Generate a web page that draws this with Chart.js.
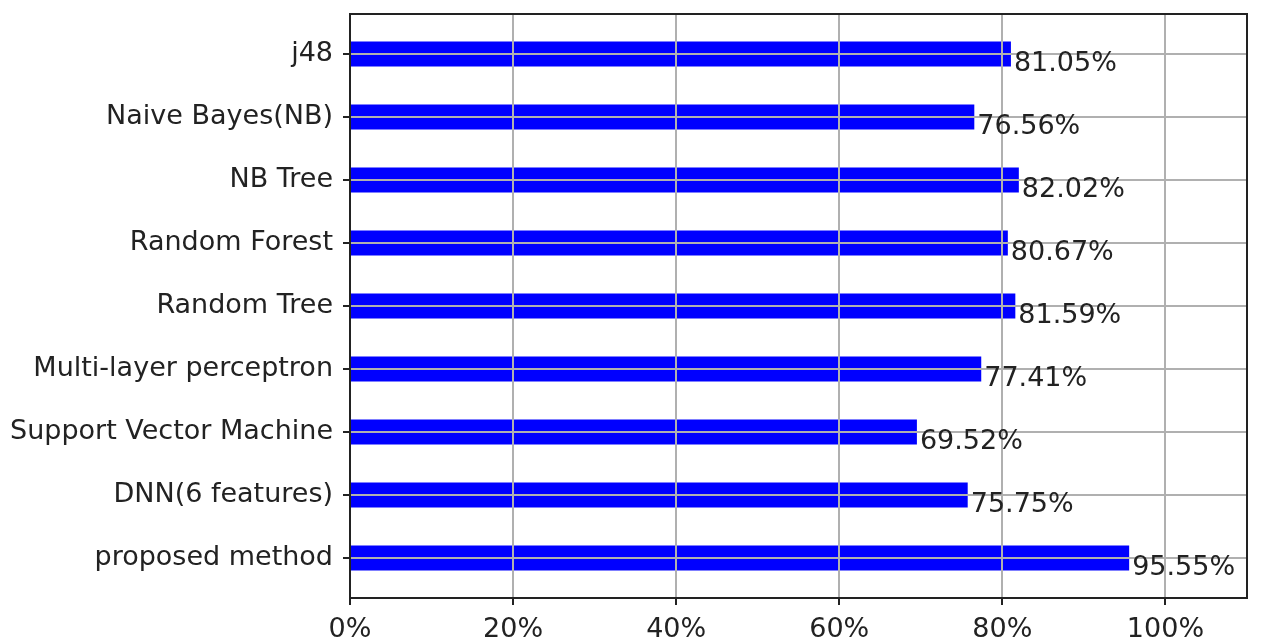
<!DOCTYPE html>
<html>
<head>
<meta charset="utf-8">
<script src="https://cdn.jsdelivr.net/npm/chart.js@4"></script>
<style>
  html, body { margin: 0; padding: 0; background: #fff; }
  #wrap { width: 1274px; height: 642px; }
</style>
</head>
<body>
<div id="wrap"><canvas id="myChart"></canvas></div>
<script>
const labels = ['j48', 'Naive Bayes(NB)', 'NB Tree', 'Random Forest', 'Random Tree',
    'Multi-layer perceptron', 'Support Vector Machine', 'DNN(6 features)', 'proposed method'];
const accuracy = [81.05, 76.56, 82.02, 80.67, 81.59, 77.41, 69.52, 75.75, 95.55];
const xTicks = [0, 20, 40, 60, 80, 100];

const FONT = "'DejaVu Sans', sans-serif";
const TEXT = '#222';

// grid lines go over the bars, plus the box and the value labels
const overlay = {
    id: 'overlay',
    afterDatasetsDraw(chart) {
        const ctx = chart.ctx;
        const area = chart.chartArea;
        chart.scales.x.drawGrid(area);
        chart.scales.y.drawGrid(area);

        ctx.save();
        ctx.strokeStyle = '#222';
        ctx.lineWidth = 2;
        ctx.strokeRect(area.left, area.top, area.right - area.left, area.bottom - area.top);

        ctx.fillStyle = TEXT;
        ctx.font = '27px ' + FONT;
        ctx.textAlign = 'left';
        ctx.textBaseline = 'alphabetic';
        const xs = chart.scales.x, ys = chart.scales.y;
        accuracy.forEach(function (v, i) {
            ctx.fillText(v.toFixed(2) + '%', xs.getPixelForValue(v) + 3, ys.getPixelForValue(i) + 17);
        });
        ctx.restore();
    }
};

document.addEventListener('DOMContentLoaded', function () {
    const ctx = document.getElementById('myChart');

    new Chart(ctx, {
        type: 'bar',
        data: {
            datasets: [{
                data: accuracy.map(function (v, i) { return { x: v, y: i }; }),
                backgroundColor: '#0000ff',
                borderWidth: 0,
                barPercentage: 0.4,
                categoryPercentage: 1
            }]
        },
        options: {
            indexAxis: 'y',
            responsive: true,
            maintainAspectRatio: false,
            animation: false,
            layout: { padding: { top: 14, right: 27, left: 0, bottom: 0 } },
            plugins: {
                legend: { display: false },
                tooltip: { enabled: false }
            },
            scales: {
                x: {
                    type: 'linear',
                    min: 0,
                    max: 110,
                    afterBuildTicks: function (scale) {
                        scale.ticks = xTicks.map(function (v) { return { value: v }; });
                    },
                    afterFit: function (scale) { scale.height = 44; },
                    grid: { color: '#b0b0b0', lineWidth: 2, tickLength: 7, tickColor: '#222', tickWidth: 2 },
                    border: { display: false },
                    ticks: {
                        color: TEXT,
                        font: { family: FONT, size: 27 },
                        padding: 9,
                        maxRotation: 0,
                        callback: function (v) { return v + '%'; }
                    }
                },
                y: {
                    type: 'linear',
                    reverse: true,
                    offset: false,
                    min: -0.635,
                    max: labels.length - 1 + 0.635,
                    afterBuildTicks: function (scale) {
                        scale.ticks = labels.map(function (l, i) { return { value: i }; });
                    },
                    afterFit: function (scale) {
                        scale.width = 350;
                        scale.paddingTop = 0;
                        scale.paddingBottom = 0;
                    },
                    grid: { offset: false, color: '#b0b0b0', lineWidth: 2, tickLength: 7, tickColor: '#222', tickWidth: 2 },
                    border: { display: false },
                    ticks: {
                        color: TEXT,
                        font: { family: FONT, size: 27 },
                        padding: 10,
                        callback: function (v) { return labels[v]; }
                    }
                }
            }
        },
        plugins: [overlay]
    });
});
</script>
</body>
</html>
